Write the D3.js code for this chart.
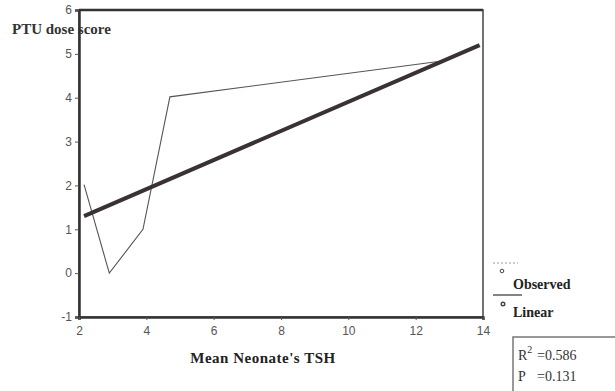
<!DOCTYPE html>
<html>
<head>
<meta charset="utf-8">
<script src="https://cdn.jsdelivr.net/npm/d3@7"></script>
<style>
  body { margin: 0; background: #fff; }
  svg { display: block; }
</style>
</head>
<body>
<svg id="chart" width="615" height="391"></svg>
<script>
// values
const observedX = [2.15, 2.9, 3.9, 4.7, 12.9];
const observedY = [2.02, 0.0, 1.0, 4.02, 4.85];
const linearX = [2.15, 13.9];
const linearY = [1.3, 5.2];
const xTicks = [2, 4, 6, 8, 10, 12, 14];
const yTicks = [-1, 0, 1, 2, 3, 4, 5, 6];
const statLines = [["R", "2", "=0.586"], ["P", "", "=0.131"]];

const svg = d3.select("#chart");
const plotLeft = 79, plotRight = 483, plotTop = 10, plotBottom = 317;

const x = d3.scaleLinear().domain([2, 14]).range([plotLeft, plotRight]);
const y = d3.scaleLinear().domain([-1, 6]).range([plotBottom, plotTop]);

// frame
svg.append("rect")
    .attr("x", plotLeft).attr("y", plotTop)
    .attr("width", plotRight - plotLeft).attr("height", plotBottom - plotTop)
    .attr("fill", "none").attr("stroke", "#444").attr("stroke-width", 1.5);
svg.append("line")
    .attr("x1", plotLeft).attr("x2", plotRight).attr("y1", plotTop).attr("y2", plotTop)
    .attr("stroke", "#333").attr("stroke-width", 2.5);

// axes
const yAxis = svg.append("g")
    .attr("transform", `translate(${plotLeft},0)`)
    .call(d3.axisLeft(y).tickValues(yTicks).tickFormat(d => String(d)).tickSize(4).tickPadding(3));
const xAxis = svg.append("g")
    .attr("transform", `translate(0,${plotBottom})`)
    .call(d3.axisBottom(x).tickValues(xTicks).tickSize(3).tickPadding(6));

[xAxis, yAxis].forEach(g => {
    g.select(".domain").attr("stroke", "#333").attr("stroke-width", 2.5);
    g.selectAll(".tick line").attr("stroke", "#555");
    g.selectAll(".tick text")
        .attr("fill", "#555")
        .style("font-family", "'Liberation Sans', Arial, sans-serif")
        .style("font-size", "12px");
});

// observed line
const line = d3.line().x(d => x(d[0])).y(d => y(d[1]));
svg.append("path")
    .datum(observedX.map((v, i) => [v, observedY[i]]))
    .attr("d", line)
    .attr("fill", "none").attr("stroke", "#555").attr("stroke-width", 1.1);

// linear fit
svg.append("path")
    .datum(linearX.map((v, i) => [v, linearY[i]]))
    .attr("d", line)
    .attr("fill", "none").attr("stroke", "#3a3232").attr("stroke-width", 4);

// titles
const serif = "'Liberation Serif', 'Times New Roman', serif";
svg.append("text")
    .attr("x", 12).attr("y", 34)
    .attr("fill", "#333")
    .style("font-family", serif).style("font-weight", "bold").style("font-size", "15px")
    .text("PTU dose score");

svg.append("text")
    .attr("x", 263).attr("y", 363)
    .attr("text-anchor", "middle")
    .attr("fill", "#222")
    .style("font-family", serif).style("font-weight", "bold").style("font-size", "15px")
    .style("letter-spacing", "0.5px")
    .text("Mean Neonate's TSH");

// legend
const legend = svg.append("g");
legend.append("line")
    .attr("x1", 493).attr("x2", 518).attr("y1", 263).attr("y2", 263)
    .attr("stroke", "#999").attr("stroke-dasharray", "2,2");
legend.append("circle").attr("cx", 502).attr("cy", 271).attr("r", 1.8)
    .attr("fill", "none").attr("stroke", "#444");
legend.append("text").attr("x", 513).attr("y", 289).text("Observed");
legend.append("line")
    .attr("x1", 493).attr("x2", 522).attr("y1", 295).attr("y2", 295)
    .attr("stroke", "#333").attr("stroke-width", 1.2);
legend.append("circle").attr("cx", 503).attr("cy", 304).attr("r", 1.8)
    .attr("fill", "none").attr("stroke", "#444").attr("stroke-width", 1.4);
legend.append("text").attr("x", 513).attr("y", 317).text("Linear");
legend.selectAll("text")
    .attr("fill", "#222")
    .style("font-family", serif).style("font-weight", "bold").style("font-size", "14px");

// stats box
svg.append("rect")
    .attr("x", 513).attr("y", 337).attr("width", 110).attr("height", 60)
    .attr("fill", "#fff").attr("stroke", "#777").attr("stroke-width", 1.5);
const stats = svg.append("g")
    .style("font-family", serif).style("font-size", "14px")
    .attr("fill", "#333");
statLines.forEach((s, i) => {
    const t = stats.append("text").attr("x", 518).attr("y", 360 + i * 21);
    t.append("tspan").text(s[0]);
    if (s[1]) t.append("tspan").attr("dy", -7).style("font-size", "10px").text(s[1]);
    t.append("tspan").attr("x", 537).attr("dy", s[1] ? 7 : 0).text(s[2]);
});
</script>
</body>
</html>
